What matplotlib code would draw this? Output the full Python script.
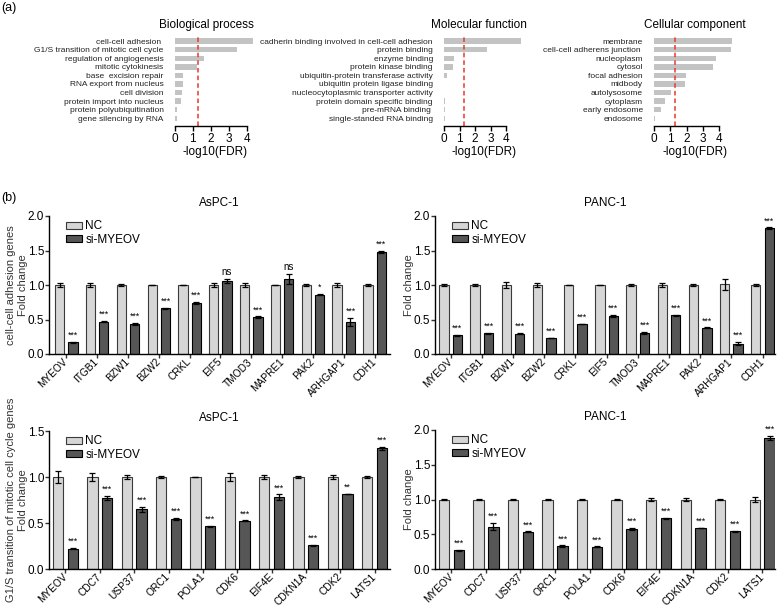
import matplotlib
matplotlib.use("Agg")
import matplotlib.pyplot as plt
import numpy as np

plt.rcParams["font.family"] = ["Liberation Sans", "DejaVu Sans"]

# ---- (a) GO enrichment, -log10(FDR) ----
bp_terms = ["cell-cell adhesion ", "G1/S transition of mitotic cell cycle",
            "regulation of angiogenesis", "mitotic cytokinesis",
            "base  excision repair", "RNA export from nucleus", "cell division",
            "protein import into nucleus", "protein polyubiquitination",
            "gene silencing by RNA"]
bp_vals = [4.37, 3.45, 1.61, 1.25, 0.44, 0.44, 0.40, 0.33, 0.13, 0.10]

mf_terms = ["cadherin binding involved in cell-cell adhesion", "protein binding",
            "enzyme binding", "protein kinase binding",
            "ubiquitin-protein transferase activity",
            "ubiquitin protein ligase binding",
            "nucleocytoplasmic transporter activity",
            "protein domain specific binding", "pre-mRNA binding ",
            "single-standed RNA binding"]
mf_vals = [4.95, 2.8, 0.65, 0.6, 0.22, 0.03, 0.03, 0.05, 0.05, 0.06]

cc_terms = ["membrane", "cell-cell adherens junction ", "nucleoplasm", "cytosol",
            "focal adhesion", "midbody", "autolysosome", "cytoplasm",
            "early endosome", "endosome"]
cc_vals = [4.81, 4.73, 3.82, 3.63, 1.95, 1.89, 1.04, 0.67, 0.41, 0.04]

fdr_cut = 1.3

# ---- (b) qPCR fold change ----
adh_genes = ["MYEOV", "ITGB1", "BZW1", "BZW2", "CRKL", "EIF5", "TMOD3",
             "MAPRE1", "PAK2", "ARHGAP1", "CDH1"]
cyc_genes = ["MYEOV", "CDC7", "USP37", "ORC1", "POLA1", "CDK6", "EIF4E",
             "CDKN1A", "CDK2", "LATS1"]

aspc_adh_nc = [1.0, 1.0, 1.0, 1.0, 1.0, 1.0, 1.0, 1.0, 1.0, 1.0, 1.0]
aspc_adh_nc_err = [0.03, 0.03, 0.01, 0.005, 0.005, 0.03, 0.03, 0.005, 0.01, 0.03, 0.01]
aspc_adh_si = [0.17, 0.47, 0.435, 0.66, 0.74, 1.06, 0.536, 1.087, 0.86, 0.464, 1.48]
aspc_adh_si_err = [0.005, 0.005, 0.01, 0.01, 0.01, 0.03, 0.01, 0.07, 0.01, 0.055, 0.01]
aspc_adh_sig = ["***", "***", "***", "***", "***", "ns", "***", "ns", "*", "***", "***"]

panc_adh_nc = [1.0, 1.0, 1.0, 1.0, 1.0, 1.0, 1.0, 1.0, 1.0, 1.01, 1.0]
panc_adh_nc_err = [0.01, 0.01, 0.04, 0.03, 0.005, 0.005, 0.01, 0.035, 0.015, 0.08, 0.02]
panc_adh_si = [0.27, 0.30, 0.295, 0.23, 0.435, 0.55, 0.305, 0.56, 0.38, 0.15, 1.82]
panc_adh_si_err = [0.01, 0.01, 0.005, 0.005, 0.005, 0.02, 0.01, 0.005, 0.005, 0.025, 0.015]
panc_adh_sig = ["***"] * 11

aspc_cyc_nc = [1.0, 1.0, 1.0, 1.0, 1.0, 1.0, 1.0, 1.0, 1.0, 1.0]
aspc_cyc_nc_err = [0.07, 0.04, 0.025, 0.015, 0.003, 0.04, 0.025, 0.01, 0.02, 0.01]
aspc_cyc_si = [0.22, 0.77, 0.65, 0.545, 0.465, 0.523, 0.78, 0.26, 0.815, 1.31]
aspc_cyc_si_err = [0.005, 0.025, 0.025, 0.01, 0.005, 0.005, 0.03, 0.005, 0.005, 0.015]
aspc_cyc_sig = ["***", "***", "***", "***", "***", "***", "***", "***", "**", "***"]

panc_cyc_nc = [1.0, 1.0, 1.0, 1.0, 1.0, 1.0, 1.0, 1.0, 1.0, 1.0]
panc_cyc_nc_err = [0.01, 0.01, 0.01, 0.01, 0.01, 0.01, 0.025, 0.015, 0.01, 0.03]
panc_cyc_si = [0.27, 0.61, 0.535, 0.33, 0.32, 0.577, 0.73, 0.59, 0.543, 1.885]
panc_cyc_si_err = [0.005, 0.05, 0.005, 0.01, 0.005, 0.01, 0.01, 0.005, 0.005, 0.03]
panc_cyc_sig = ["***"] * 10

W, H = 779, 609
fig = plt.figure(figsize=(W / 100, H / 100), dpi=100)


def px_axes(left, top, right, bottom):
    return fig.add_axes([left / W, 1 - bottom / H, (right - left) / W, (bottom - top) / H])


def go_panel(left, scale, terms, vals, title, tx, lx):
    ax = px_axes(left, 36, left + 5 * scale, 126)
    y = np.arange(len(terms))
    ax.barh(y, vals, height=0.62, color="#c3c3c3", edgecolor="none")
    ax.axvline(fdr_cut, color="#e8392f", lw=1.1, ls=(0, (3, 2)))
    ax.set_xlim(0, 5)
    ax.set_ylim(9.9, -0.6)
    ax.set_yticks(y)
    ax.set_yticklabels(terms, fontsize=6.0, color="#222222")
    ax.tick_params(axis="y", length=0, pad=8)
    ax.set_xticks([0, 1, 2, 3, 4])
    ax.tick_params(axis="x", length=3.5, width=1, pad=1.5, labelsize=8.5)
    for s in ["left", "right", "top"]:
        ax.spines[s].set_visible(False)
    ax.spines["bottom"].set_bounds(0, 4)
    ax.spines["bottom"].set_linewidth(1)
    ax.set_title(title, fontsize=8.5, x=tx, pad=6)
    ax.set_xlabel("-log10(FDR)", fontsize=8.5, x=lx, labelpad=1)
    return ax


go_panel(174.7, 18.0, bp_terms, bp_vals, "Biological process", 0.35, 0.45)
go_panel(444.0, 15.5, mf_terms, mf_vals, "Molecular function", 0.45, 0.52)
go_panel(654.0, 16.3, cc_terms, cc_vals, "Cellular component", 0.5, 0.5)


def bar_panel(box, genes, nc, nc_err, si, si_err, sig, ymax, xlim, title, ylabel):
    ax = px_axes(*box)
    x = np.arange(len(genes))
    off, w = 0.215, 0.3
    ekw = dict(elinewidth=0.9, capthick=0.9, ecolor="black")
    ax.bar(x - off, nc, w, yerr=nc_err, color="#d6d6d6", edgecolor="#3a3a3a",
           linewidth=0.8, capsize=2.2, error_kw=ekw, label="NC")
    ax.bar(x + off, si, w, yerr=si_err, color="#565656", edgecolor="black",
           linewidth=0.8, capsize=2.2, error_kw=ekw, label="si-MYEOV")
    for xi, v, e, s in zip(x, si, si_err, sig):
        ax.annotate(s, (xi + off, v + e), xytext=(0, 1.5), textcoords="offset points",
                    ha="center", va="bottom", fontsize=7 if s == "ns" else 6.3)
    ax.set_xlim(*xlim)
    ax.set_ylim(0, ymax)
    ax.set_yticks(np.arange(0, ymax + 0.01, 0.5))
    ax.set_yticklabels(["%.1f" % t for t in np.arange(0, ymax + 0.01, 0.5)])
    ax.set_xticks(x)
    ax.set_xticklabels(genes, rotation=45, ha="right", va="center",
                       rotation_mode="anchor")
    ax.tick_params(axis="both", length=3, width=1, color="#333333")
    ax.tick_params(axis="y", pad=0.5, labelsize=8.5)
    ax.tick_params(axis="x", pad=1.5, labelsize=7.3)
    for s in ["right", "top"]:
        ax.spines[s].set_visible(False)
    for s in ["left", "bottom"]:
        ax.spines[s].set_linewidth(1)
    ax.set_title(title, fontsize=8.5, pad=7)
    ax.set_ylabel(ylabel, fontsize=8, labelpad=0, color="#333333", linespacing=1.25)
    ax.legend(loc="upper left", bbox_to_anchor=(0.03, 1.02), frameon=False,
              fontsize=8.5, handlelength=1.3, handleheight=0.55,
              handletextpad=0.3, labelspacing=0.15, borderaxespad=0.2)
    return ax


bar_panel((49, 216, 390, 354), adh_genes, aspc_adh_nc, aspc_adh_nc_err, aspc_adh_si,
          aspc_adh_si_err, aspc_adh_sig, 2.0, (-0.56, 10.5), "AsPC-1",
          "cell-cell adhesion genes\nFold change")
bar_panel((435, 216, 775, 354), adh_genes, panc_adh_nc, panc_adh_nc_err, panc_adh_si,
          panc_adh_si_err, panc_adh_sig, 2.0, (-0.5, 10.4), "PANC-1", "Fold change")
bar_panel((49, 431, 390, 569), cyc_genes, aspc_cyc_nc, aspc_cyc_nc_err, aspc_cyc_si,
          aspc_cyc_si_err, aspc_cyc_sig, 1.5, (-0.48, 9.45), "AsPC-1",
          "G1/S transition of mitotic cell cycle genes\nFold change")
bar_panel((435, 430, 775, 569), cyc_genes, panc_cyc_nc, panc_cyc_nc_err, panc_cyc_si,
          panc_cyc_si_err, panc_cyc_sig, 2.0, (-0.475, 9.37), "PANC-1", "Fold change")

fig.text(1 / W, 1 - 8 / H, "(a)", fontsize=9, va="center", ha="left")
fig.text(1 / W, 1 - 198 / H, "(b)", fontsize=9, va="center", ha="left")

fig.savefig("out.png", dpi=100)
